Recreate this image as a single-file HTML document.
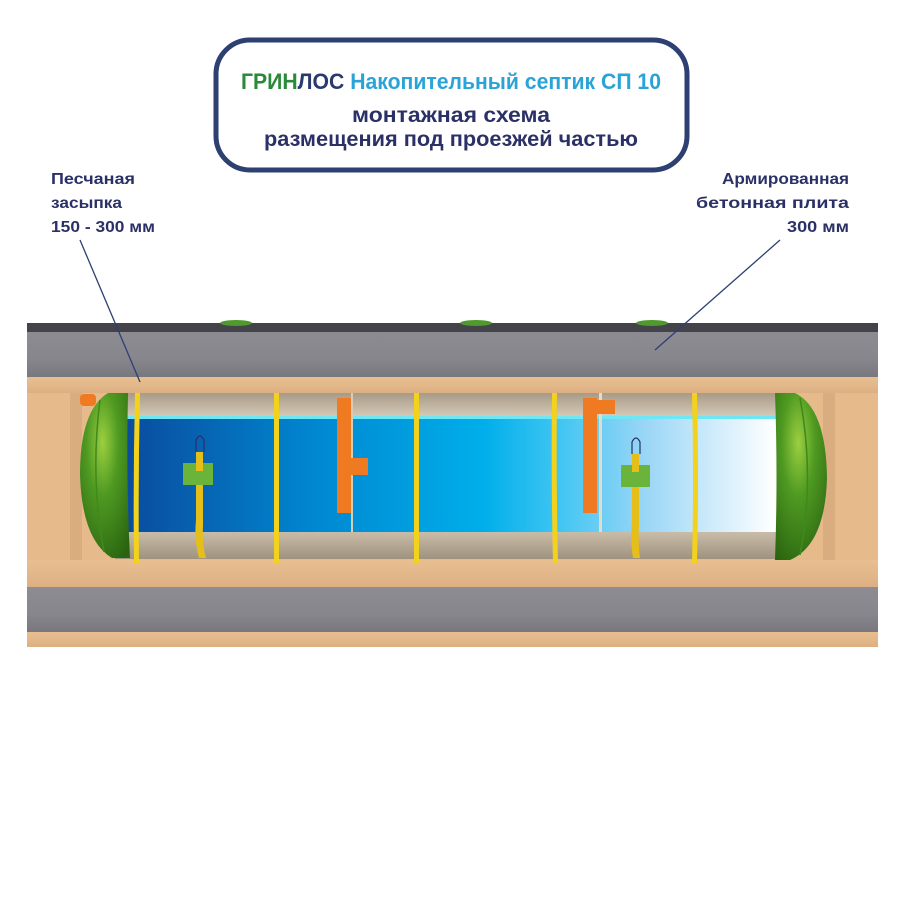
<!DOCTYPE html>
<html><head><meta charset="utf-8"><style>
html,body{margin:0;padding:0;background:#fff;}
svg{display:block;}
text{font-family:"Liberation Sans",sans-serif;font-weight:bold;}
</style></head><body>
<svg width="901" height="900" viewBox="0 0 901 900" xmlns="http://www.w3.org/2000/svg">
<defs>
<linearGradient id="water" x1="127" y1="0" x2="775" y2="0" gradientUnits="userSpaceOnUse">
<stop offset="0" stop-color="#0a4c9e"/>
<stop offset="0.3" stop-color="#0089d2"/>
<stop offset="0.55" stop-color="#00aeea"/>
<stop offset="0.66" stop-color="#3cc4f2"/>
<stop offset="0.8" stop-color="#9ad6f6"/>
<stop offset="1" stop-color="#ffffff"/>
</linearGradient>
<linearGradient id="gray" x1="0" y1="0" x2="0" y2="1">
<stop offset="0" stop-color="#8c8c92"/><stop offset="0.6" stop-color="#86868c"/><stop offset="1" stop-color="#77777d"/>
</linearGradient>
<linearGradient id="sand" x1="0" y1="0" x2="0" y2="1">
<stop offset="0" stop-color="#e8bf90"/><stop offset="1" stop-color="#ddb083"/>
</linearGradient>
<linearGradient id="beigeT" x1="0" y1="0" x2="0" y2="1">
<stop offset="0" stop-color="#a79a86"/><stop offset="1" stop-color="#d6cbb9"/>
</linearGradient>
<linearGradient id="beigeB" x1="0" y1="0" x2="0" y2="1">
<stop offset="0" stop-color="#c9bca8"/><stop offset="1" stop-color="#9f927e"/>
</linearGradient>
<radialGradient id="cap" cx="0.45" cy="0.3" r="0.8">
<stop offset="0" stop-color="#9ccf40"/><stop offset="0.4" stop-color="#4f9a22"/><stop offset="1" stop-color="#2a6410"/>
</radialGradient>
</defs>

<!-- title box -->
<rect x="216" y="40" width="471" height="130" rx="34" fill="#fff" stroke="#2e3f72" stroke-width="5"/>
<text x="451" y="89" text-anchor="middle" font-size="22" textLength="420" lengthAdjust="spacingAndGlyphs"><tspan fill="#2a8a3a">ГРИН</tspan><tspan fill="#2b3a6e">ЛОС </tspan><tspan fill="#2aa3d8">Накопительный септик СП 10</tspan></text>
<text x="451" y="122" text-anchor="middle" font-size="21" fill="#2b3166" textLength="198" lengthAdjust="spacingAndGlyphs">монтажная схема</text>
<text x="451" y="146" text-anchor="middle" font-size="21" fill="#2b3166" textLength="374" lengthAdjust="spacingAndGlyphs">размещения под проезжей частью</text>

<!-- labels -->
<g font-size="16" fill="#2b3166">
<text x="51" y="184" textLength="84" lengthAdjust="spacingAndGlyphs">Песчаная</text>
<text x="51" y="208" textLength="71" lengthAdjust="spacingAndGlyphs">засыпка</text>
<text x="51" y="232" textLength="104" lengthAdjust="spacingAndGlyphs">150 - 300 мм</text>
<text x="849" y="184" text-anchor="end" textLength="127" lengthAdjust="spacingAndGlyphs">Армированная</text>
<text x="849" y="208" text-anchor="end" textLength="153" lengthAdjust="spacingAndGlyphs">бетонная плита</text>
<text x="849" y="232" text-anchor="end" textLength="62" lengthAdjust="spacingAndGlyphs">300 мм</text>
</g>

<!-- slabs -->
<rect x="27" y="330" width="851" height="48" fill="url(#gray)"/>
<rect x="27" y="323" width="851" height="9" fill="#45434a"/>
<rect x="27" y="377" width="851" height="16" fill="url(#sand)"/>
<rect x="27" y="393" width="851" height="170" fill="#e6ba8a"/>
<rect x="70" y="393" width="12" height="167" fill="#d9ad80"/>
<rect x="823" y="393" width="12" height="167" fill="#d9ad80"/>
<rect x="27" y="560" width="851" height="27" fill="url(#sand)"/>
<rect x="27" y="587" width="851" height="45" fill="url(#gray)"/>
<rect x="27" y="632" width="851" height="15" fill="url(#sand)"/>
<!-- manholes -->
<ellipse cx="236" cy="323" rx="16" ry="3" fill="#4e9a2e"/>
<ellipse cx="476" cy="323" rx="16" ry="3" fill="#4e9a2e"/>
<ellipse cx="652" cy="323" rx="16" ry="3" fill="#4e9a2e"/>

<!-- tank -->
<rect x="115" y="393" width="670" height="24" fill="url(#beigeT)"/>
<rect x="115" y="417" width="665" height="115" fill="url(#water)"/>
<rect x="115" y="416" width="665" height="3" fill="#6ee6f4"/>
<rect x="115" y="532" width="670" height="27" fill="url(#beigeB)"/>
<!-- partitions -->
<rect x="351" y="393" width="2" height="139" fill="#d8cdb8"/>
<rect x="599" y="393" width="3" height="139" fill="#e4dccb"/>
<!-- pipes -->
<rect x="337" y="398" width="14" height="115" fill="#f07a22"/>
<rect x="350" y="458" width="18" height="17" fill="#f07a22"/>
<rect x="583" y="398" width="14" height="115" fill="#f07a22"/>
<rect x="583" y="400" width="32" height="14" fill="#f07a22"/>
<!-- floats -->
<path d="M196 452 L196 440 Q200 432 204 440 L204 452" fill="none" stroke="#2b3166" stroke-width="1.2"/>
<path d="M196 452 L203 452 L203 525 Q202 545 206 558 L199 558 Q194 540 196 520 Z" fill="#e6be1a"/>
<rect x="183" y="463" width="30" height="22" fill="#6ab43c"/>
<rect x="196" y="463" width="7" height="8" fill="#e6be1a"/>
<path d="M632 454 L632 442 Q636 434 640 442 L640 454" fill="none" stroke="#2b3166" stroke-width="1.2"/>
<path d="M632 454 L639 454 L639 525 Q638 545 640 558 L633 558 Q630 540 632 520 Z" fill="#e6be1a"/>
<rect x="621" y="465" width="29" height="22" fill="#6ab43c"/>
<rect x="632" y="465" width="7" height="7" fill="#e6be1a"/>
<!-- bands -->
<g fill="#f2d21c">
<path d="M135 393 L140 393 Q138 478 139 563 L134 563 Q133 478 135 393Z"/>
<rect x="274" y="393" width="5" height="170"/>
<rect x="414" y="393" width="5" height="170"/>
<path d="M552 393 L557 393 Q556 478 558 563 L553 563 Q551 478 552 393Z"/>
<path d="M692 393 L697 393 Q699 478 697 563 L692 563 Q694 478 692 393Z"/>
</g>
<!-- caps -->
<rect x="80" y="394" width="16" height="12" rx="4" fill="#f07a22"/>
<path d="M128 393 L108 393 Q80 410 80 475 Q82 540 112 558 L130 558 Q126 478 128 393Z" fill="url(#cap)"/>
<path d="M100 400 Q90 478 104 552" fill="none" stroke="#3f8a1c" stroke-width="1.5"/>
<path d="M775 393 L795 393 Q826 408 827 478 Q825 545 790 560 L775 560 Q778 478 775 393Z" fill="url(#cap)"/>
<path d="M800 398 Q815 478 800 555" fill="none" stroke="#3f8a1c" stroke-width="1.5"/>

<!-- leader lines -->
<line x1="80" y1="240" x2="140" y2="382" stroke="#2e3f72" stroke-width="1.3"/>
<line x1="780" y1="240" x2="655" y2="350" stroke="#2e3f72" stroke-width="1.3"/>
</svg>
</body></html>
